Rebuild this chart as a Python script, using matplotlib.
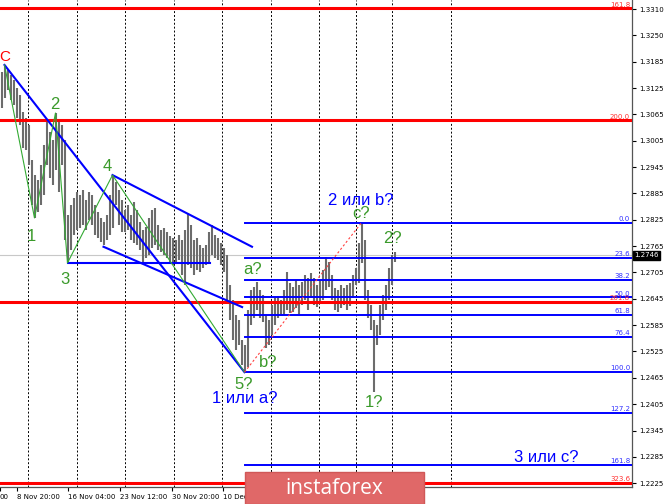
import matplotlib.pyplot as plt
import matplotlib.transforms as mtransforms
from matplotlib.patches import Rectangle
import numpy as np

# H4 bars, highs and lows
highs = [1.3166, 1.3182, 1.3171, 1.3159, 1.3148, 1.3130, 1.3114, 1.3075, 1.3061, 1.3045,
         1.2965, 1.2930, 1.2919, 1.2953, 1.2999, 1.3056, 1.3029, 1.3011, 1.3072, 1.3056,
         1.3045, 1.3011, 1.2839, 1.2862, 1.2878, 1.2892, 1.2885, 1.2896, 1.2873, 1.2892,
         1.2885, 1.2862, 1.2846, 1.2832, 1.2823, 1.2839, 1.2885, 1.2930, 1.2914, 1.2896,
         1.2873, 1.2850, 1.2862, 1.2839, 1.2869, 1.2850, 1.2823, 1.2805, 1.2811, 1.2832,
         1.2850, 1.2855, 1.2816, 1.2805, 1.2809, 1.2800, 1.2791, 1.2786, 1.2782, 1.2793,
         1.2782, 1.2805, 1.2843, 1.2816, 1.2782, 1.2786, 1.2770, 1.2763, 1.2770, 1.2800,
         1.2816, 1.2793, 1.2786, 1.2775, 1.2763, 1.2747, 1.2679, 1.2644, 1.2610, 1.2599,
         1.2553, 1.2541, 1.2621, 1.2667, 1.2674, 1.2686, 1.2667, 1.2656, 1.2610, 1.2599,
         1.2633, 1.2649, 1.2653, 1.2644, 1.2667, 1.2708, 1.2683, 1.2674, 1.2690, 1.2679,
         1.2686, 1.2702, 1.2695, 1.2706, 1.2695, 1.2679, 1.2690, 1.2713, 1.2743, 1.2731,
         1.2702, 1.2672, 1.2667, 1.2679, 1.2672, 1.2679, 1.2683, 1.2702, 1.2718, 1.2775,
         1.2821, 1.2782, 1.2667, 1.2633, 1.2599, 1.2587, 1.2633, 1.2656, 1.2679, 1.2718,
         1.2747, 1.2754]
lows = [1.3084, 1.3107, 1.3125, 1.3102, 1.3091, 1.3061, 1.3045, 1.2992, 1.2988, 1.2953,
        1.2862, 1.2832, 1.2846, 1.2862, 1.2885, 1.2953, 1.2924, 1.2908, 1.2942, 1.2892,
        1.2953, 1.2782, 1.2729, 1.2759, 1.2793, 1.2805, 1.2809, 1.2816, 1.2805, 1.2827,
        1.2816, 1.2793, 1.2786, 1.2777, 1.2770, 1.2782, 1.2793, 1.2809, 1.2862, 1.2816,
        1.2800, 1.2800, 1.2805, 1.2782, 1.2775, 1.2770, 1.2759, 1.2731, 1.2740, 1.2747,
        1.2763, 1.2770, 1.2759, 1.2754, 1.2747, 1.2740, 1.2731, 1.2724, 1.2731, 1.2736,
        1.2702, 1.2679, 1.2724, 1.2718, 1.2702, 1.2713, 1.2708, 1.2718, 1.2724, 1.2731,
        1.2747, 1.2740, 1.2736, 1.2724, 1.2708, 1.2644, 1.2599, 1.2553, 1.2530, 1.2541,
        1.2496, 1.2479, 1.2491, 1.2587, 1.2603, 1.2621, 1.2603, 1.2594, 1.2534, 1.2541,
        1.2564, 1.2587, 1.2603, 1.2608, 1.2610, 1.2621, 1.2615, 1.2617, 1.2626, 1.2612,
        1.2633, 1.2644, 1.2621, 1.2649, 1.2633, 1.2628, 1.2637, 1.2644, 1.2667, 1.2674,
        1.2644, 1.2621, 1.2617, 1.2626, 1.2633, 1.2621, 1.2631, 1.2649, 1.2679, 1.2683,
        1.2729, 1.2644, 1.2603, 1.2576, 1.2434, 1.2541, 1.2564, 1.2599, 1.2621, 1.2644,
        1.2679, 1.2731]
last_price = 1.2746

# wave count C-1-2-3-4-5 (bar index, price)
wave_bars = [1, 11, 18, 22, 37, 81]
wave_prices = [1.3182, 1.2832, 1.3072, 1.2729, 1.2930, 1.2479]

# fibonacci (blue) from c? high to 5? low
fib_high = 1.2821
fib_low = 1.2479
fib_start = 81
fib_levels = [0.0, 23.6, 38.2, 50.0, 61.8, 76.4, 100.0, 127.2, 161.8]

# older fibonacci (red), only extension levels visible
red_fib_0 = 1.4397
red_fib_100 = 1.3726
red_levels = [161.8, 200.0, 261.8, 323.6]

# trend lines: (bar1, price1, bar2, price2)
trend_lines = [(1, 1.3182, 81, 1.2479),
               (37, 1.2930, 83.5, 1.2766),
               (34, 1.2766, 80.2, 1.2628),
               (22, 1.2729, 69.5, 1.2729)]

y_ticks = np.linspace(1.2225, 1.3310, 19)
y_labels = ['1.2225', '1.2285', '1.2345', '1.2405', '1.2465', '1.2525', '1.2585', '1.2645',
            '1.2705', '1.2765', '1.2825', '1.2885', '1.2945', '1.3005', '1.3065', '1.3125',
            '1.3185', '1.3250', '1.3310']
date_bars = [-0.5, 5.2, 22.2, 39.5, 56.8, 73.8]
date_labels = ['00', '8 Nov 20:00', '16 Nov 04:00', '23 Nov 12:00', '30 Nov 20:00', '10 Dec 04:00']
grid_bars = [8.8, 25.2, 41.2, 57.5, 73.5, 89.8, 105.8, 118.2, 130.2, 149.8]

GREEN = '#3a9a2a'
BLUE = '#0000ff'
LBL = 'Liberation Sans'

fig = plt.figure(figsize=(6.65, 5.04), dpi=100)
ax = fig.add_axes([0, 17 / 504, 632 / 665, 487 / 504])
ax.set_xlim(-0.5, 632 / 3 - 0.5)
ax.set_ylim(1.22163, 1.33306)

for g in grid_bars:
    ax.axvline(g, color='black', lw=0.7, ls=(0, (2, 2)), zorder=1)

idx = np.arange(len(highs))
ax.vlines(idx, lows, highs, color='#6c6c6c', lw=1.5, zorder=2)

ax.axhline(last_price, color='#c8c8c8', lw=0.8, zorder=1.5)

# red fib
blend = mtransforms.blended_transform_factory(ax.transAxes, ax.transData)
for lv in red_levels:
    p = red_fib_0 + (red_fib_100 - red_fib_0) * lv / 100
    ax.axhline(p, color='#ff0000', lw=2.2, zorder=3)
    ax.text(0.997, p + 0.0002, '%.1f' % lv, transform=blend, ha='right', va='bottom',
            fontsize=5, color='#ff3030', zorder=4)

# blue fib
for lv in fib_levels:
    p = fib_high - (fib_high - fib_low) * lv / 100
    ax.plot([fib_start, 632 / 3], [p, p], color=BLUE, lw=1.4, zorder=3)
    ax.text(0.997, p + 0.0002, '%.1f' % lv, transform=blend, ha='right', va='bottom',
            fontsize=5, color='#3030ff', zorder=4)

for x1, p1, x2, p2 in trend_lines:
    ax.plot([x1, x2], [p1, p2], color=BLUE, lw=1.5, zorder=3)

ax.plot(wave_bars, wave_prices, color='#33aa33', lw=0.8, zorder=3)
ax.plot([81, 120], [1.2479, 1.2821], color='#ff4040', lw=0.8, ls=(0, (2, 2)), zorder=3)

def lab(txt, x, y, dx, dy, color=GREEN, size=12):
    ax.annotate(txt, (x, y), xytext=(dx, dy), textcoords='offset pixels', ha='center',
                va='center', fontsize=size, color=color, family=LBL, zorder=5)

lab('C', wave_bars[0], wave_prices[0], 0, 8, color='#ff0000', size=11)
lab('1', wave_bars[1], wave_prices[1], -3, -19)
lab('2', wave_bars[2], wave_prices[2], -1, 9)
lab('3', wave_bars[3], wave_prices[3], -3, -17)
lab('4', wave_bars[4], wave_prices[4], -5, 9)
lab('5?', wave_bars[5], wave_prices[5], -1, -12)
lab('1 или а?', wave_bars[5], wave_prices[5], 0, -26, color=BLUE)
lab('a?', 85, highs[85], -4, 12)
lab('b?', 88, lows[88], 3, -14)
lab('c?', 120, highs[120], 0, 9)
lab('2 или b?', 120, highs[120], -1, 22, color=BLUE)
lab('1?', 124, lows[124], 0, -11)
lab('2?', 131, highs[131], -2, 14)
lab('3 или с?', 181.5, fib_high - (fib_high - fib_low) * 1.618, 0, 7, color=BLUE)

# axes look
for s in ['top', 'left']:
    ax.spines[s].set_visible(False)
for s in ['right', 'bottom']:
    ax.spines[s].set_color('#555555')
    ax.spines[s].set_linewidth(0.9)
ax.yaxis.tick_right()
ax.set_yticks(y_ticks)
ax.set_yticklabels(y_labels)
ax.tick_params(axis='y', labelsize=5, length=3, pad=2, colors='black')
ax.set_xticks(date_bars)
ax.set_xticklabels(date_labels)
ax.tick_params(axis='x', labelsize=5, length=3, pad=2)
for t in ax.get_xticklabels():
    t.set_ha('left')

ax.text(1.004, last_price, '%.4f' % last_price, transform=blend, ha='left', va='center',
        fontsize=5, color='white', zorder=6,
        bbox=dict(boxstyle='square,pad=0.15', fc='black', ec='black'))

# watermark
fig.patches.append(Rectangle((245 / 665, 0), 179 / 665, 32 / 504, transform=fig.transFigure,
                             facecolor='#e06868', edgecolor='#d05858', zorder=10))
fig.text(334 / 665, 15 / 504, 'instaforex', ha='center', va='center', color='white',
         fontsize=15, family='Open Sans', zorder=11)

fig.savefig('out.png', dpi=100)
